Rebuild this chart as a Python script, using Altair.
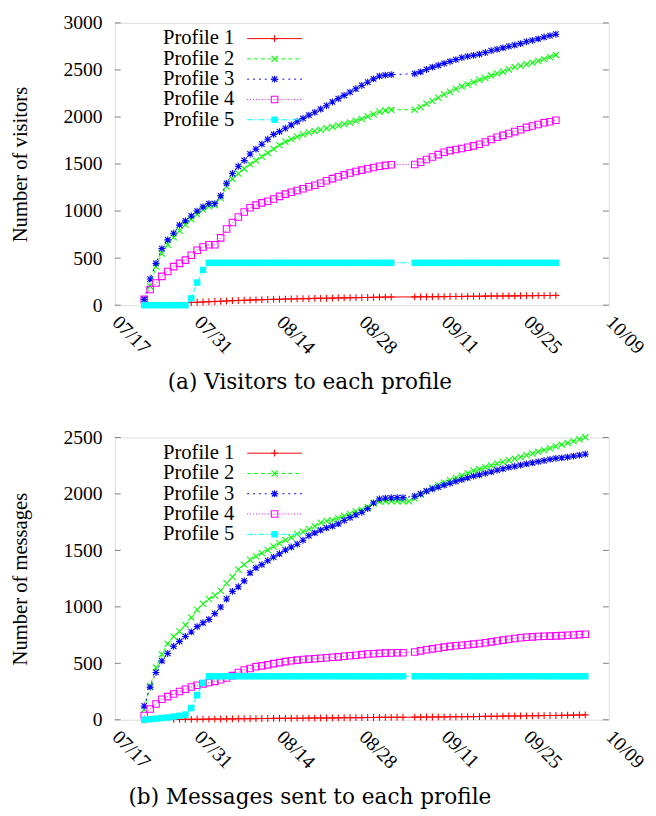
import altair as alt
import pandas as pd

# ---------------- data ----------------
profiles = ["Profile 1", "Profile 2", "Profile 3", "Profile 4", "Profile 5"]
x_tick_labels = ["07/17", "07/31", "08/14", "08/28", "09/11", "09/25", "10/09"]
year = 2006
start_date = "2006-07-17"

visitor_y_ticks = [0, 500, 1000, 1500, 2000, 2500, 3000]
message_y_ticks = [0, 500, 1000, 1500, 2000, 2500]

# day offsets from 07/17 (one point per day)
visit_days = list(range(5, 76))
visitors_p1 = [20, None, None, None, None, None, None, None,
               28, 31, 34, 37, 39, 42, 45, 48, 50, 52, 54, 56, 58, 60, 62, 63, 65, 66, 68, 69,
               70, 72, 73, 74, 75, 77, 78, 79, 80, 81, 82, 84, 85, 86, 87,
               None, None, None,
               88, 89, 89, 90, 91, 91, 92, 93, 93, 94, 95, 95, 96, 97, 97, 98, 99, 99, 100, 101,
               101, 102, 102, 103, 104]
visitors_p2 = [62, 201, 410, 549, 642, 722, 792, 854, 913, 965, 1017, 1052, 1063, 1139, 1260,
               1340, 1399, 1451, 1497, 1538, 1580, 1618, 1659, 1701, 1736, 1765, 1790, 1815, 1835,
               1850, 1865, 1880, 1895, 1910, 1925, 1942, 1960, 1980, 2005, 2030, 2055, 2068, 2076,
               None, None, None,
               2078, 2105, 2140, 2170, 2205, 2240, 2268, 2298, 2325, 2345, 2370, 2395, 2415, 2440,
               2462, 2482, 2505, 2530, 2545, 2560, 2578, 2595, 2615, 2638, 2660]
visitors_p3 = [62, 278, 444, 601, 694, 764, 851, 896, 948, 1000, 1045, 1080, 1080, 1163, 1295,
               1399, 1476, 1538, 1607, 1659, 1711, 1763, 1815, 1845, 1880, 1915, 1950, 1985, 2020,
               2050, 2085, 2120, 2160, 2195, 2230, 2265, 2300, 2335, 2370, 2405, 2435, 2445, 2450,
               None, None, None,
               2460, 2480, 2505, 2530, 2550, 2570, 2590, 2610, 2630, 2645, 2655, 2667, 2685, 2705,
               2720, 2735, 2750, 2765, 2780, 2800, 2815, 2830, 2850, 2865, 2880]
visitors_p4 = [62, 167, 236, 306, 358, 410, 444, 479, 531, 583, 618, 642, 642, 715, 809, 878,
               938, 990, 1035, 1063, 1087, 1104, 1128, 1156, 1180, 1200, 1218, 1238, 1258, 1275,
               1295, 1322, 1345, 1365, 1385, 1405, 1420, 1435, 1450, 1463, 1477, 1486, 1493,
               None, None, None,
               1495, 1520, 1548, 1575, 1600, 1625, 1643, 1655, 1665, 1678, 1693, 1711, 1735, 1760,
               1785, 1805, 1825, 1845, 1865, 1890, 1905, 1920, 1938, 1950, 1965]
visitors_p5 = [0, 0, 0, 0, 0, 0, 0, 0, 73, 240, 375,
               450, 450, 450, 450, 450, 450, 450, 450, 450, 450, 450, 450, 450, 450, 450, 450,
               450, 450, 450, 450, 450, 450, 450, 450, 450, 450, 450, 450, 450, 450, 450, 450,
               None, None, None,
               450, 450, 450, 450, 450, 450, 450, 450, 450, 450, 450, 450, 450, 450, 450, 450,
               450, 450, 450, 450, 450, 450, 450, 450, 450]

msg_days = list(range(5, 81))
messages_p1 = [0, None, None, None, None,
               3, 3, 4, 4, 5, 5, 6, 6, 7, 8, 8, 9, 9, 10, 10, 11, 11, 12, 12, 13,
               13, 14, 14, 15, 15, 16, 16, 17, 17, 18, 18, 19, 19, 20, 20, 21, 21, 21, 22, 22,
               None,
               23, 23, 24, 24, 25, 25, 26, 26, 27, 28, 28, 29, 30, 30, 31, 32, 33, 33, 34, 35,
               35, 36, 37, 38, 38, 39, 40, 41, 42, 43]
messages_p2 = [90, 300, 463, 579, 674, 738, 781, 839, 905, 975, 1027, 1070, 1100, 1143, 1209,
               1265, 1331, 1374, 1418, 1447, 1476, 1504, 1534, 1563, 1591,
               1615, 1645, 1665, 1690, 1715, 1745, 1760, 1770, 1785, 1805, 1825, 1845, 1860, 1885,
               1915, 1932, 1936, 1936, 1936, 1936, 1936,
               1960, 1995, 2025, 2055, 2080, 2100, 2122, 2141, 2162, 2183, 2205, 2220, 2236, 2252,
               2268, 2283, 2298, 2313, 2327, 2343, 2358, 2373, 2388, 2405, 2422, 2437, 2452, 2468,
               2485, 2503]
messages_p3 = [122, 289, 419, 521, 587, 651, 694, 738, 778, 825, 859, 888, 940, 998, 1070, 1137,
               1178, 1230, 1302, 1345, 1374, 1409, 1441, 1470, 1504, 1530, 1555, 1590,
               1630, 1655, 1680, 1700, 1715, 1735, 1765, 1790, 1815, 1838, 1870, 1920, 1955, 1962,
               1966, 1967, 1968,
               None,
               1980, 2000, 2025, 2045, 2060, 2078, 2095, 2112, 2127, 2143, 2158, 2170, 2183, 2195,
               2210, 2223, 2235, 2245, 2256, 2266, 2276, 2286, 2296, 2306, 2315, 2320, 2326, 2335,
               2343, 2352]
messages_p4 = [37, 95, 139, 182, 205, 228, 250, 270, 290, 305, 318, 330, 340, 355, 370, 391, 419,
               440, 454, 469, 477, 486, 497, 506, 515,
               522, 528, 533, 537, 541, 545, 549, 553, 557, 562, 567, 572, 577, 582, 585, 588, 590,
               592, 593, 594,
               None,
               600, 610, 620, 628, 636, 643, 650, 655, 660, 665, 670, 675, 682, 690, 697, 705, 713,
               720, 726, 731, 734, 737, 739, 741, 743, 745, 748, 751, 754, 758]
messages_p5 = [0, 5, 10, 15, 20, 28, 35, 45, 104, 217, 327,
               385, 385, 385, 385, 385, 385, 385, 385, 385, 385, 385, 385, 385, 385, 385, 385, 385,
               385, 385, 385, 385, 385, 385, 385, 385, 385, 385, 385, 385, 385, 385, 385, 385, 385,
               None,
               385, 385, 385, 385, 385, 385, 385, 385, 385, 385, 385, 385, 385, 385, 385, 385, 385,
               385, 385, 385, 385, 385, 385, 385, 385, 385, 385, 385, 385, 385]

# ---------------- styles ----------------
FONT = "Liberation Serif, Times New Roman, serif"
CAPTION_FONT = "DejaVu Serif"
colors = ["#ff0000", "#00ff00", "#0000ff", "#ff00ff", "#00ffff"]
dashes = [None, [4, 3], [2, 4], [1, 2], [6, 2, 1.5, 2]]
shapes = ["M-1,0L1,0M0,-1L0,1",
          "M-1,-1L1,1M-1,1L1,-1",
          "M-1,0L1,0M0,-1L0,1M-0.8,-0.8L0.8,0.8M-0.8,0.8L0.8,-0.8",
          "square",
          "square"]
filled = [False, False, False, False, True]
sizes = [49, 40, 49, 44, 44]

W, H = 504, 288


def dt(label):
    m, d = label.split("/")
    return alt.DateTime(year=year, month=int(m), date=int(d))


def panel(days, series, y_ticks, y_title, caption):
    dates = [(pd.Timestamp(start_date) + pd.Timedelta(days=d)).strftime("%Y-%m-%dT%H:%M:%S")
             for d in days]
    x_scale = alt.Scale(domain=[dt(x_tick_labels[0]), dt(x_tick_labels[-1])])
    y_scale = alt.Scale(domain=[y_ticks[0], y_ticks[-1]], nice=False)
    x_axis = alt.Axis(values=[dt(l) for l in x_tick_labels], format="%m/%d",
                      labelAngle=45, labelAlign="left", labelBaseline="middle",
                      labelPadding=14, ticks=False, tickSize=0, domain=False, grid=False,
                      labelFlush=False, labelOverlap=False, labelBound=False,
                      labelFont=FONT, labelFontSize=20, labelColor="black", title=None)
    y_axis = alt.Axis(values=y_ticks, format="d", labelPadding=13, ticks=False, tickSize=0,
                      domain=False, grid=False, labelFont=FONT, labelFontSize=20,
                      labelColor="black", title=y_title, titleFont=FONT, titleFontSize=21,
                      titleFontWeight="normal", titleColor="black", titleAngle=-90,
                      titleX=-96, titleY=H / 2, titleAlign="center", titleBaseline="middle")
    X = alt.X("date:T", scale=x_scale, axis=x_axis)
    layers = []
    # inner tick marks on left and right edges
    tick_df = pd.DataFrame({"v": y_ticks})
    for x0, x1 in [(0, 6), (W - 6, W)]:
        layers.append(alt.Chart(tick_df).mark_rule(color="#808080", strokeWidth=1).encode(
            y=alt.Y("v:Q", scale=y_scale, axis=y_axis), x=alt.value(x0), x2=alt.value(x1)))
    for i, vals in enumerate(series):
        df = pd.DataFrame({"date": dates, "value": vals}).dropna()
        line_kw = dict(color=colors[i], strokeWidth=1, clip=False)
        if dashes[i]:
            line_kw["strokeDash"] = dashes[i]
        Y = alt.Y("value:Q", scale=y_scale, axis=y_axis)
        layers.append(alt.Chart(df).mark_line(**line_kw).encode(x=X, y=Y))
        layers.append(alt.Chart(df).mark_point(
            shape=shapes[i], filled=filled[i], size=sizes[i], color=colors[i],
            strokeWidth=1.1, opacity=1).encode(x=X, y=Y))
    # legend (text on the left, sample on the right as in gnuplot)
    for i, name in enumerate(profiles):
        ly = 16 + 20.7 * i
        ldf = pd.DataFrame({"label": [name]})
        layers.append(alt.Chart(ldf).mark_text(
            align="right", baseline="middle", font=FONT, fontSize=21, color="black").encode(
            text="label:N", x=alt.value(122), y=alt.value(ly)))
        rule_kw = dict(color=colors[i], strokeWidth=1)
        if dashes[i]:
            rule_kw["strokeDash"] = dashes[i]
        layers.append(alt.Chart(ldf).mark_rule(**rule_kw).encode(
            x=alt.value(135), x2=alt.value(191), y=alt.value(ly)))
        layers.append(alt.Chart(ldf).mark_point(
            shape=shapes[i], filled=filled[i], size=sizes[i], color=colors[i],
            strokeWidth=1.1, opacity=1).encode(x=alt.value(163), y=alt.value(ly)))
    cdf = pd.DataFrame({"caption": [caption]})
    layers.append(alt.Chart(cdf).mark_text(
        align="center", baseline="middle", font=CAPTION_FONT, fontSize=22, color="black").encode(
        text="caption:N", x=alt.value(199), y=alt.value(367)))
    return alt.layer(*layers).properties(width=W, height=H)


top = panel(visit_days, [visitors_p1, visitors_p2, visitors_p3, visitors_p4, visitors_p5],
            visitor_y_ticks, "Number of visitors", "(a) Visitors to each profile")
bottom = panel(msg_days, [messages_p1, messages_p2, messages_p3, messages_p4, messages_p5],
               message_y_ticks, "Number of messages", "(b) Messages sent to each profile")

chart = alt.vconcat(top, bottom, spacing=33).properties(
    padding={"left": 1, "top": -4, "right": 0, "bottom": 0}
).configure_view(stroke="black", strokeWidth=1.2).configure(background="white")

chart.save("out.html", embed_options={"renderer": "svg", "actions": False})
